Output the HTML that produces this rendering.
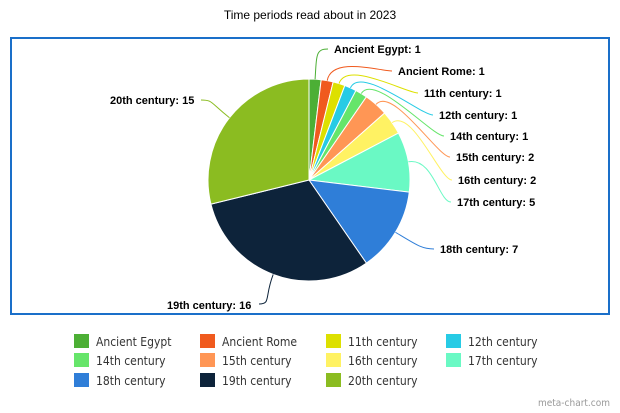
<!DOCTYPE html>
<html><head><meta charset="utf-8"><style>
body{margin:0;width:620px;height:413px;background:#fff;overflow:hidden;font-family:"Liberation Sans",sans-serif}
#box{position:absolute;left:10px;top:37px;width:596px;height:274px;border:2px solid #1a6fc9}
.t{position:absolute;left:0;width:620px;top:8px;text-align:center;font-size:12px;color:#000}
.lg{position:absolute;font-family:"DejaVu Sans Condensed","DejaVu Sans",sans-serif;font-size:12px;color:#333;white-space:nowrap}
.lg i{display:inline-block;width:15px;height:14px;vertical-align:-2px;margin-right:7px}
.wm{position:absolute;right:10px;top:398px;font-family:"DejaVu Sans Condensed","DejaVu Sans",sans-serif;font-size:10px;color:#999}
</style></head><body>
<div class="t">Time periods read about in 2023</div>
<div id="box"></div>
<svg id="s" width="620" height="413" style="position:absolute;left:0;top:0"></svg>
<div class="wm">meta-chart.com</div>
<script>
var d=[["Ancient Egypt",1,"#4caf35",334,53],["Ancient Rome",1,"#f05a1e",398,75],["11th century",1,"#dde000",424,97],["12th century",1,"#27cbe5",439,119],["14th century",1,"#66e56a",450,140],["15th century",2,"#ff9655",456,161],["16th century",2,"#fff263",458,184],["17th century",5,"#6af9c4",457,206],["18th century",7,"#2f7ed8",440,253],["19th century",16,"#0d233a",167,309],["20th century",15,"#8bbc21",110,104]];
var cx=309,cy=180,r=101,tot=52,a=0,h="";
function P(ang,rr){return [cx+rr*Math.sin(ang),cy-rr*Math.cos(ang)];}
var lines="",txt="";
d.forEach(function(e,i){var a0=a,a1=a+e[1]/tot*2*Math.PI;a=a1;var p0=P(a0,r),p1=P(a1,r);
h+='<path d="M'+cx+','+cy+'L'+p0[0]+','+p0[1]+'A'+r+','+r+' 0 '+((a1-a0)>Math.PI?1:0)+' 1 '+p1[0]+','+p1[1]+'Z" fill="'+e[2]+'" stroke="#fff" stroke-width="1"/>';
var m=(a0+a1)/2,q0=P(m,r),q1=P(m,r+25);var left=e[3]<cx;var ex,ey;
if(e[0]=="20th century"){ex=201;ey=100;}else if(e[0]=="19th century"){ex=259;ey=304;}else{ex=e[3]-6;ey=e[4]-4;}
lines+='<path d="M'+q0[0]+','+q0[1]+'C'+q1[0]+','+q1[1]+' '+(ex+(left?12:-12))+','+ey+' '+ex+','+ey+'" fill="none" stroke="'+e[2]+'" stroke-width="1"/>';
txt+='<text x="'+e[3]+'" y="'+e[4]+'" style="font-family:\'Liberation Sans\',sans-serif;font-size:11px;font-weight:bold">'+e[0]+': '+e[1]+'</text>';
});
document.getElementById("s").innerHTML=h+lines+txt;
var cols=[74,200,326,446],rows=[334,353,373],html="";
d.forEach(function(e,i){html+='<div class="lg" style="left:'+cols[i%4]+'px;top:'+rows[Math.floor(i/4)]+'px"><i style="background:'+e[2]+'"></i>'+e[0]+'</div>';});
document.body.insertAdjacentHTML("beforeend",html);
</script>
</body></html>
